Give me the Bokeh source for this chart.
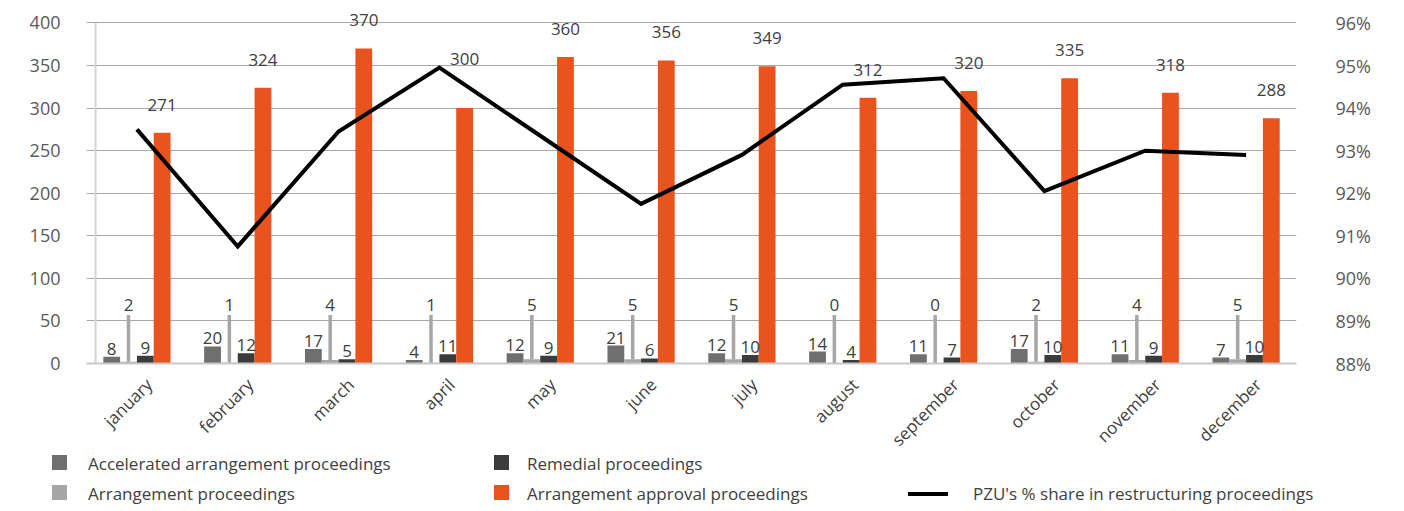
import math

from bokeh.plotting import figure
from bokeh.layouts import column
from bokeh.models import (ColumnDataSource, Range1d, LinearAxis, FixedTicker,
                          PrintfTickFormatter, LabelSet, Div)
from bokeh.core.properties import value
from bokeh.embed import file_html
from bokeh.resources import INLINE

# ---- data -------------------------------------------------------------
months = ["january", "february", "march", "april", "may", "june", "july",
          "august", "september", "october", "november", "december"]
accelerated = [8, 20, 17, 4, 12, 21, 12, 14, 11, 17, 11, 7]
arrangement = [2, 1, 4, 1, 5, 5, 5, 0, 0, 2, 4, 5]
remedial = [9, 12, 5, 11, 9, 6, 10, 4, 7, 10, 9, 10]
approval = [271, 324, 370, 300, 360, 356, 349, 312, 320, 335, 318, 288]
pzu_share = [93.5, 90.75, 93.45, 94.95, 93.35, 91.75, 92.9, 94.55, 94.7, 92.05, 93.0, 92.9]

count_ticks = [0, 50, 100, 150, 200, 250, 300, 350, 400]
share_ticks = [88, 89, 90, 91, 92, 93, 94, 95, 96]

series_names = ["Accelerated arrangement proceedings", "Arrangement proceedings",
                "Remedial proceedings", "Arrangement approval proceedings"]
line_name = "PZU's % share in restructuring proceedings"

# ---- styling ----------------------------------------------------------
FONT = "Open Sans"
C_ACC = "#6f6f6f"
C_ARR = "#a6a6a6"
C_REM = "#3b3b3b"
C_APP = "#e9531d"
C_LINE = "#000000"
TXT = "#404040"
AX_TXT = "#595959"

BAR_W = 1 / 6
OFFS = [-0.25, -1 / 12, 1 / 12, 0.25]
LEADER_TOP = 57          # arrangement labels sit on a leader line
APP_LABEL_GAP = 26       # gap above orange bars, in count units
HEADROOM = 1.06          # room above the top gridline for the tallest label
MONTH_SHIFT = 0.12       # month labels end slightly right of the group centre

CHART_H = 461
BOTTOM_BORDER = 98
LEGEND_H = 58
LEGEND_OVERLAP = 8       # legend strip tucks under the month labels' empty corner

idx = list(range(len(months)))
share_lo, share_hi = share_ticks[0], share_ticks[-1]
count_hi = count_ticks[-1]

# where the share line sits expressed in count units (for label clearance)
share_in_counts = [(s - share_lo) / (share_hi - share_lo) * count_hi for s in pzu_share]
app_label_y = [max(v + APP_LABEL_GAP, s + 3) for v, s in zip(approval, share_in_counts)]

src = ColumnDataSource(dict(
    i=idx,
    x_acc=[i + OFFS[0] for i in idx],
    x_arr=[i + OFFS[1] for i in idx],
    x_rem=[i + OFFS[2] for i in idx],
    x_app=[i + OFFS[3] for i in idx],
    acc=accelerated, arr=arrangement, rem=remedial, app=approval,
    acc_t=[str(v) for v in accelerated],
    arr_t=[str(v) for v in arrangement],
    rem_t=[str(v) for v in remedial],
    app_t=[str(v) for v in approval],
    leader_top=[LEADER_TOP] * len(idx),
    app_label_y=app_label_y,
    share=pzu_share,
))

p = figure(width=1404, height=CHART_H,
           x_range=Range1d(-0.5, len(months) - 0.5),
           y_range=Range1d(0, count_hi * HEADROOM),
           output_backend="svg", toolbar_location=None,
           min_border_left=86, min_border_right=108,
           min_border_top=2, min_border_bottom=BOTTOM_BORDER)
p.outline_line_color = None
p.background_fill_color = "white"
p.border_fill_color = None
p.xgrid.visible = False
p.ygrid.ticker = FixedTicker(ticks=count_ticks[1:])
p.ygrid.grid_line_color = "#a8a8a8"
p.ygrid.grid_line_width = 1

p.extra_y_ranges = {"share": Range1d(share_lo, share_lo + (share_hi - share_lo) * HEADROOM)}

# light vertical rule near the left edge of the plot area
p.segment(x0=[-0.41], y0=[0], x1=[-0.41], y1=[count_hi], line_color="#d4d4d4", line_width=2)

# ---- bars -------------------------------------------------------------
p.vbar(x="x_acc", top="acc", width=BAR_W, source=src, fill_color=C_ACC, line_color=None)
p.vbar(x="x_arr", top="arr", width=BAR_W, source=src, fill_color=C_ARR, line_color=None)
p.segment(x0="x_arr", y0="arr", x1="x_arr", y1="leader_top", source=src,
          line_color=C_ARR, line_width=3.5)
p.vbar(x="x_rem", top="rem", width=BAR_W, source=src, fill_color=C_REM, line_color=None)
p.vbar(x="x_app", top="app", width=BAR_W, source=src, fill_color=C_APP, line_color=None)

# ---- share line -------------------------------------------------------
p.line(x="i", y="share", source=src, y_range_name="share",
       line_color=C_LINE, line_width=4, line_join="miter")

# ---- data labels ------------------------------------------------------
def labels(x, y, text, dy):
    return LabelSet(x=x, y=y, text=text, source=src, y_offset=dy,
                    text_align="center", text_baseline="alphabetic",
                    text_font=value(FONT), text_font_size="17px", text_color=TXT)

p.add_layout(labels("x_acc", "acc", "acc_t", 2))
p.add_layout(labels("x_rem", "rem", "rem_t", 2))
p.add_layout(labels("x_arr", "leader_top", "arr_t", 4))
p.add_layout(labels("x_app", "app_label_y", "app_t", 0))

# ---- axes -------------------------------------------------------------
def style_axis(ax):
    ax.axis_line_color = None
    ax.major_tick_line_color = None
    ax.minor_tick_line_color = None
    ax.major_tick_out = 0
    ax.major_tick_in = 0
    ax.major_label_text_font = FONT
    ax.major_label_text_font_size = "18px"
    ax.major_label_text_color = AX_TXT

yl = p.yaxis[0]
yl.ticker = FixedTicker(ticks=count_ticks)
style_axis(yl)
yl.major_label_standoff = 26

yr = LinearAxis(y_range_name="share", ticker=FixedTicker(ticks=share_ticks),
                formatter=PrintfTickFormatter(format="%d%%"))
style_axis(yr)
yr.major_label_standoff = 39
p.add_layout(yr, "right")

month_ticks = [i + MONTH_SHIFT for i in idx]
xa = p.xaxis[0]
xa.ticker = FixedTicker(ticks=month_ticks)
xa.major_label_overrides = {t: m for t, m in zip(month_ticks, months)}
style_axis(xa)
xa.axis_line_color = "#c8c8c8"
xa.axis_line_width = 2
xa.major_label_orientation = math.pi / 4
xa.major_label_text_font_size = "17px"
xa.major_label_text_color = TXT
xa.major_label_standoff = 18

# ---- legend strip (two rows, three columns) ---------------------------
def swatch(left, top, color):
    return (f'<span style="position:absolute;left:{left}px;top:{top}px;'
            f'width:15px;height:15px;background:{color}"></span>')

def key_line(left, top, color):
    return (f'<span style="position:absolute;left:{left}px;top:{top}px;'
            f'width:40px;height:4px;background:{color}"></span>')

def caption(left, top, text):
    return (f'<span style="position:absolute;left:{left}px;top:{top}px;'
            f'line-height:22px;white-space:nowrap">{text}</span>')

row_top = [0, 30]
swatch_cols = [(52, 88), (494, 527)]
swatch_colors = [C_ACC, C_ARR, C_REM, C_APP]
parts = []
for k, (name, color) in enumerate(zip(series_names, swatch_colors)):
    sx, tx = swatch_cols[k // 2]
    rt = row_top[k % 2]
    parts.append(swatch(sx, rt + 2, color))
    parts.append(caption(tx, rt, name))
parts.append(key_line(908, row_top[1] + 9, C_LINE))
parts.append(caption(973, row_top[1], line_name))

legend_html = (f'<div style="position:relative;width:1404px;height:{LEGEND_H}px;'
               f'font-family:\'{FONT}\';font-size:17px;color:{TXT}">'
               + "".join(parts) + '</div>')
legend = Div(text=legend_html, width=1404, height=LEGEND_H,
             margin=(-LEGEND_OVERLAP, 0, 0, 0))

open("out.html", "w").write(file_html(column(p, legend, spacing=0), INLINE))
